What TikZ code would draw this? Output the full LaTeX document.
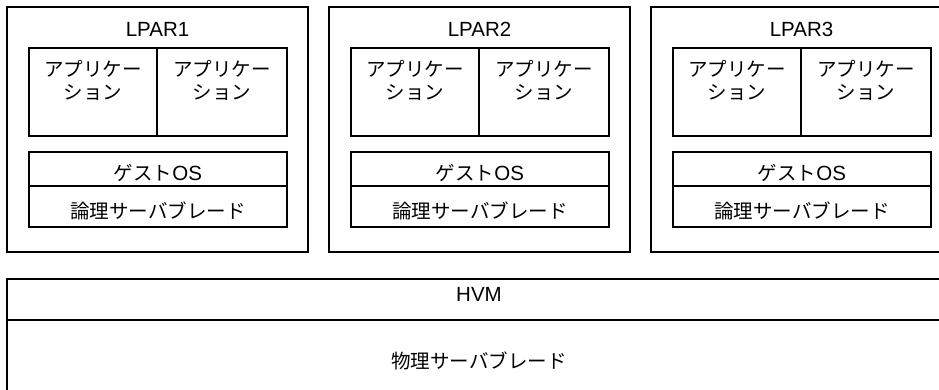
\documentclass[tikz,border=0pt]{standalone}
\usepackage{fontspec}
\setmainfont{Liberation Sans}
\newfontfamily\jp{Noto Sans CJK JP}
\begin{document}
\begin{tikzpicture}[x=1pt,y=-1pt,
  box/.style={draw, line width=1.4pt, inner sep=0pt},
  txt/.style={inner sep=0pt, font=\fontsize{20.5}{23.5}\selectfont, align=center},
  txtjp/.style={inner sep=0pt, font=\jp\fontsize{19.5}{23.5}\selectfont, align=center}]
\useasboundingbox (0,0) rectangle (939,390);
\clip (0,0) rectangle (939,390);
\foreach \i/\dx in {1/0,2/322,3/644}{
  \node[box, minimum width=301pt, minimum height=245pt] (lpar\i) at (157.5+\dx,129.5) {};
  \node[txt] (lt\i) at (157.5+\dx,29) {LPAR\i};
  \node[box, minimum width=128pt, minimum height=88pt] (appa\i) at (93+\dx,92) {};
  \node[box, minimum width=130pt, minimum height=88pt] (appb\i) at (222+\dx,92) {};
  \node[txtjp] (appat\i) at (93+\dx,80.5) {アプリケー\\ション};
  \node[txtjp] (appbt\i) at (222+\dx,80.5) {アプリケー\\ション};
  \node[box, minimum width=258pt, minimum height=34pt] (os\i) at (158+\dx,169) {};
  \node[txt] (ost\i) at (158+\dx,173) {{\jp\fontsize{19.5}{23.5}\selectfont ゲスト}OS};
  \node[box, minimum width=258pt, minimum height=41pt] (lb\i) at (158+\dx,206.5) {};
  \node[txtjp] (lbt\i) at (158+\dx,211) {論理サーバブレード};
}
\node[box, minimum width=944pt, minimum height=41pt] (hvm) at (479,299.5) {};
\node[txt] (hvmt) at (479,294.5) {HVM};
\node[box, minimum width=944pt, minimum height=100pt] (pb) at (479,370) {};
\node[txtjp] (pbt) at (479,361) {物理サーバブレード};
\end{tikzpicture}
\end{document}
